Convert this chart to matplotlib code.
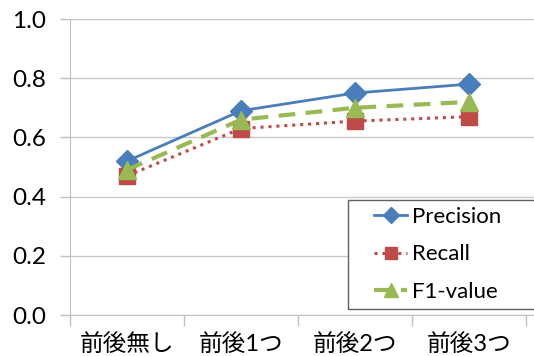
import numpy as np
import matplotlib.pyplot as plt
from matplotlib.patches import Rectangle

plt.rcParams['font.family'] = ['Lato', 'Noto Sans CJK JP', 'DejaVu Sans']

categories = ['前後無し', '前後1つ', '前後2つ', '前後3つ']
precision = [0.52, 0.69, 0.75, 0.78]
recall = [0.47, 0.63, 0.655, 0.67]
f1_value = [0.49, 0.66, 0.70, 0.72]

W, H = 534, 356
fig = plt.figure(figsize=(W / 100, H / 100), dpi=100)
# plot area: left edge at x=70px, 0.0 at y=315px, 1.0 at y=19px; right side runs off the image
ax = fig.add_axes([70 / W, (H - 315) / H, 1 - 70 / W, (315 - 19) / H])

x = np.arange(len(categories))
ax.plot(x, precision, color='#4a7ebb', lw=2, marker='D', ms=11,
        label='Precision', zorder=3)
ax.plot(x, recall, color='#be4b48', lw=2.2, ls=(0, (1, 1.6)), marker='s', ms=12,
        label='Recall', zorder=4)
ax.plot(x, f1_value, color='#98b954', lw=3, ls=(0, (4, 2.5)), marker='^', ms=13,
        label='F1-value', zorder=5)

ax.set_xlim(-0.5, -0.5 + (W - 70) / 114)
ax.set_ylim(0, 1.0)
ax.set_yticks(np.arange(0, 1.01, 0.2))
ax.set_yticklabels(['{:.1f}'.format(v) for v in np.arange(0, 1.01, 0.2)], fontsize=17.5)
ax.set_xticks(x)
ax.set_xticklabels(categories, fontsize=17)
ax.set_xticks(np.arange(-0.5, 3.6, 1.0), minor=True)
ax.tick_params(axis='x', which='major', length=0, pad=13)
ax.tick_params(axis='x', which='minor', length=8, color='#c0c0c0', width=1)
ax.tick_params(axis='y', length=7, color='#c0c0c0', width=1, pad=10)
ax.grid(axis='y', color='#c8c8c8', lw=1)
ax.set_axisbelow(True)
for s in ['top', 'right']:
    ax.spines[s].set_visible(False)
for s in ['left', 'bottom']:
    ax.spines[s].set_color('#c0c0c0')

# legend box runs past the right edge of the image
fig.patches.append(Rectangle((348 / W, (H - 309) / H), 200 / W, 109 / H,
                             transform=fig.transFigure, fill=True, fc='white',
                             ec='#606060', lw=1, zorder=6))
leg = fig.legend(loc='upper left', bbox_to_anchor=(374 / W, (H - 207) / H),
                 frameon=False, fontsize=16, handlelength=1.5, handletextpad=0.2,
                 labelspacing=0.78, borderaxespad=0, borderpad=0, markerscale=0.75)
leg.set_zorder(7)

fig.savefig('out.png', dpi=100)
